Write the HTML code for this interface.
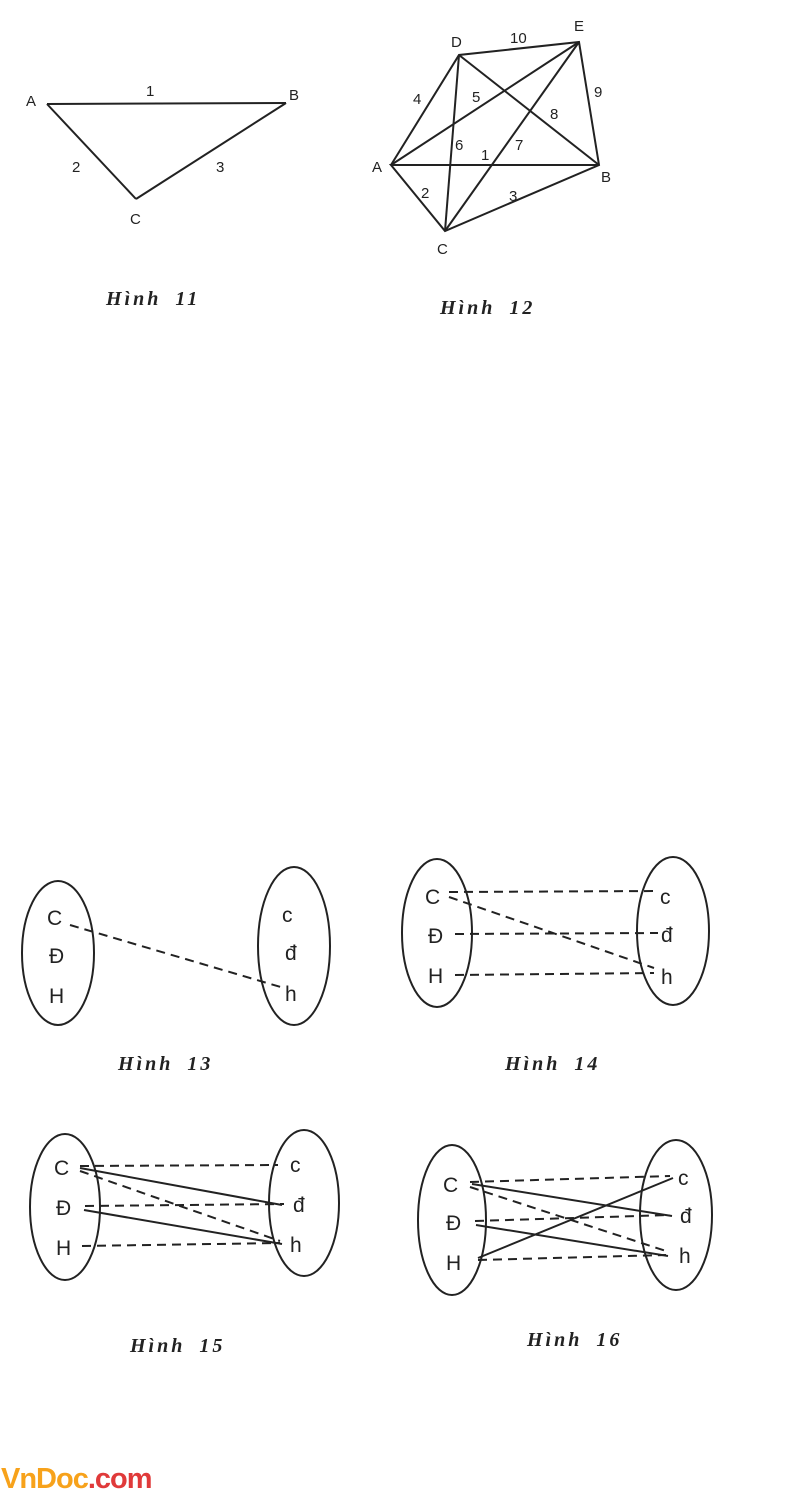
<!DOCTYPE html>
<html><head><meta charset="utf-8"><style>
html,body{margin:0;padding:0;background:#fff;}
svg{display:block;}
text{font-family:"Liberation Sans",sans-serif;fill:#222;}
.cap{font-family:"Liberation Serif",serif;font-style:italic;font-weight:bold;font-size:20px;letter-spacing:3px;word-spacing:6px;fill:#222;}
.lb{font-size:21px;}
.sm{font-size:15px;}
</style></head><body>
<svg width="795" height="1491" viewBox="0 0 795 1491" xmlns="http://www.w3.org/2000/svg">
<g stroke="#222" stroke-width="2" fill="none">
<line x1="47" y1="104" x2="286" y2="103"/>
<line x1="47" y1="104" x2="136" y2="199"/>
<line x1="136" y1="199" x2="286" y2="103"/>
<polyline points="391,165 459,55 579,42 599,165 445,231 391,165 599,165"/>
<line x1="391" y1="165" x2="579" y2="42"/>
<line x1="459" y1="55" x2="599" y2="165"/>
<line x1="459" y1="55" x2="445" y2="231"/>
<line x1="579" y1="42" x2="445" y2="231"/>
</g>
<g class="sm">
<text x="26" y="106">A</text><text x="289" y="100">B</text><text x="130" y="224">C</text>
<text x="146" y="96">1</text><text x="72" y="172">2</text><text x="216" y="172">3</text>
<text x="451" y="47">D</text><text x="574" y="31">E</text><text x="372" y="172">A</text><text x="601" y="182">B</text><text x="437" y="254">C</text>
<text x="510" y="43">10</text><text x="413" y="104">4</text><text x="472" y="102">5</text><text x="594" y="97">9</text><text x="550" y="119">8</text>
<text x="455" y="150">6</text><text x="515" y="150">7</text><text x="481" y="160">1</text><text x="421" y="198">2</text><text x="509" y="201">3</text>
</g>
<text class="cap" x="106" y="305">Hình 11</text>
<text class="cap" x="440" y="314">Hình 12</text>

<g stroke="#222" stroke-width="2" fill="none">
<ellipse cx="58" cy="953" rx="36" ry="72"/>
<ellipse cx="294" cy="946" rx="36" ry="79"/>
<ellipse cx="437" cy="933" rx="35" ry="74"/>
<ellipse cx="673" cy="931" rx="36" ry="74"/>
<ellipse cx="65" cy="1207" rx="35" ry="73"/>
<ellipse cx="304" cy="1203" rx="35" ry="73"/>
<ellipse cx="452" cy="1220" rx="34" ry="75"/>
<ellipse cx="676" cy="1215" rx="36" ry="75"/>
</g>
<g stroke="#222" stroke-width="2" fill="none" stroke-dasharray="9,6">
<line x1="70" y1="925" x2="284" y2="988"/>
<line x1="449" y1="892" x2="658" y2="891"/>
<line x1="449" y1="897" x2="654" y2="968"/>
<line x1="455" y1="934" x2="658" y2="933"/>
<line x1="455" y1="975" x2="654" y2="973"/>
<line x1="80" y1="1166" x2="278" y2="1165"/>
<line x1="85" y1="1206" x2="284" y2="1204"/>
<line x1="80" y1="1171" x2="280" y2="1241"/>
<line x1="82" y1="1246" x2="280" y2="1243"/>
<line x1="470" y1="1182" x2="670" y2="1176"/>
<line x1="475" y1="1221" x2="670" y2="1215"/>
<line x1="470" y1="1187" x2="666" y2="1251"/>
<line x1="478" y1="1260" x2="666" y2="1255"/>
</g>
<g stroke="#222" stroke-width="2" fill="none">
<line x1="80" y1="1168" x2="282" y2="1205"/>
<line x1="84" y1="1210" x2="282" y2="1244"/>
<line x1="472" y1="1184" x2="672" y2="1216"/>
<line x1="476" y1="1225" x2="668" y2="1256"/>
<line x1="478" y1="1258" x2="673" y2="1178"/>
</g>
<g class="lb">
<text x="47" y="925">C</text><text x="49" y="963">Đ</text><text x="49" y="1003">H</text>
<text x="282" y="922">c</text><text x="285" y="960">đ</text><text x="285" y="1001">h</text>
<text x="425" y="904">C</text><text x="428" y="943">Đ</text><text x="428" y="983">H</text>
<text x="660" y="904">c</text><text x="661" y="942">đ</text><text x="661" y="984">h</text>
<text x="54" y="1175">C</text><text x="56" y="1215">Đ</text><text x="56" y="1255">H</text>
<text x="290" y="1172">c</text><text x="293" y="1212">đ</text><text x="290" y="1252">h</text>
<text x="443" y="1192">C</text><text x="446" y="1230">Đ</text><text x="446" y="1270">H</text>
<text x="678" y="1185">c</text><text x="680" y="1223">đ</text><text x="679" y="1263">h</text>
</g>
<text class="cap" x="118" y="1070">Hình 13</text>
<text class="cap" x="505" y="1070">Hình 14</text>
<text class="cap" x="130" y="1352">Hình 15</text>
<text class="cap" x="527" y="1346">Hình 16</text>
<text x="1" y="1488" style="font-family:'Liberation Sans',sans-serif;font-weight:bold;font-size:29px;letter-spacing:-1px"><tspan style="fill:#f7a21b">VnDoc</tspan><tspan style="fill:#e03a3a">.com</tspan></text>
</svg>
</body></html>
